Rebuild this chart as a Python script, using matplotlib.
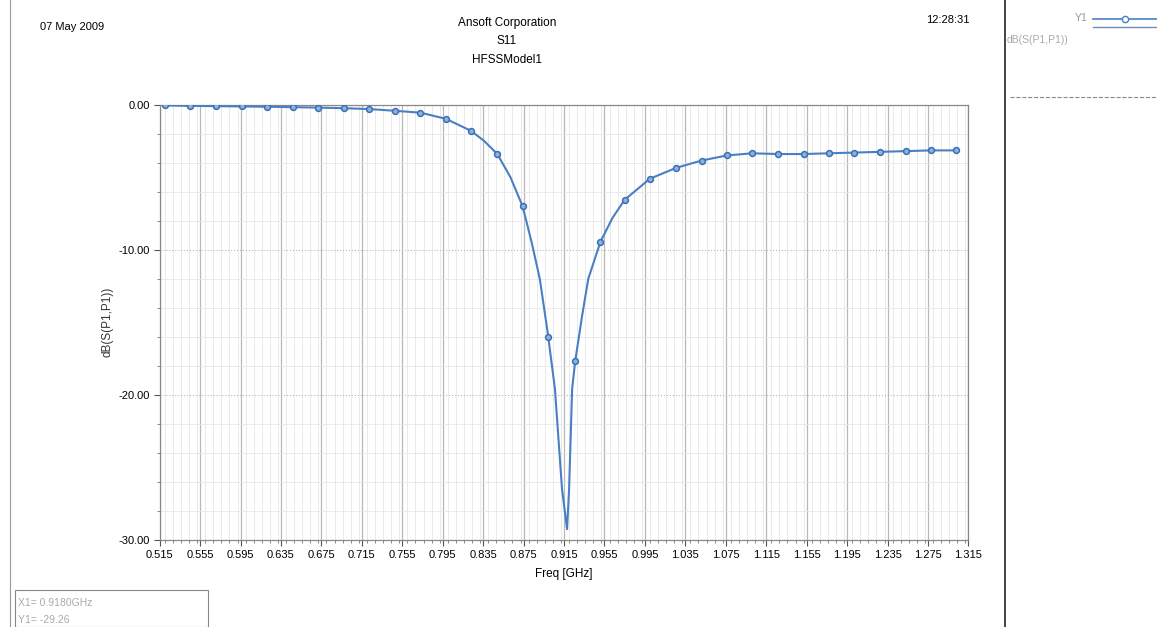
import numpy as np
import matplotlib
matplotlib.use("Agg")
import matplotlib.pyplot as plt
from matplotlib.ticker import MultipleLocator, FixedLocator

plt.rcParams['font.family'] = ['Liberation Sans', 'DejaVu Sans']

# sweep curve (GHz, dB)
freq_curve = [0.520, 0.545, 0.571, 0.596, 0.621, 0.647, 0.672, 0.697, 0.722, 0.748,
              0.773, 0.798, 0.823, 0.836, 0.849, 0.862, 0.874, 0.883, 0.891, 0.899,
              0.906, 0.913, 0.918, 0.920, 0.923, 0.926, 0.933, 0.939, 0.951, 0.963,
              0.975, 1.000, 1.026, 1.051, 1.076, 1.101, 1.127, 1.152, 1.177, 1.202,
              1.228, 1.253, 1.278, 1.303]
s11_curve = [-0.05, -0.08, -0.10, -0.12, -0.14, -0.17, -0.20, -0.24, -0.30, -0.42,
             -0.55, -0.97, -1.80, -2.50, -3.40, -5.00, -7.00, -9.50, -12.0, -15.8,
             -19.6, -26.5, -29.26, -26.5, -19.6, -17.7, -14.5, -12.0, -9.45, -7.80,
             -6.55, -5.10, -4.35, -3.85, -3.50, -3.35, -3.40, -3.40, -3.35, -3.30,
             -3.25, -3.20, -3.15, -3.15]

# marker points along the trace
freq_mark = [0.520, 0.545, 0.571, 0.596, 0.621, 0.647, 0.672, 0.697, 0.722, 0.748,
             0.773, 0.798, 0.823, 0.849, 0.874, 0.899, 0.926, 0.951, 0.975, 1.000,
             1.026, 1.051, 1.076, 1.101, 1.127, 1.152, 1.177, 1.202, 1.228, 1.253,
             1.278, 1.303]
s11_mark = [-0.05, -0.08, -0.10, -0.12, -0.14, -0.17, -0.20, -0.24, -0.30, -0.42,
            -0.55, -0.97, -1.80, -3.40, -7.00, -16.0, -17.7, -9.45, -6.55, -5.10,
            -4.35, -3.85, -3.50, -3.35, -3.40, -3.40, -3.35, -3.30, -3.25, -3.20,
            -3.15, -3.15]

xticks = [0.515, 0.555, 0.595, 0.635, 0.675, 0.715, 0.755, 0.795, 0.835, 0.875, 0.915,
          0.955, 0.995, 1.035, 1.075, 1.115, 1.155, 1.195, 1.235, 1.275, 1.315]
yticks = [0, -10, -20, -30]

fig = plt.figure(figsize=(11.57, 6.27), dpi=100)
ax = fig.add_axes([0.138, 0.139, 0.699, 0.694])

ax.plot(freq_curve, s11_curve, color='#4a7fc4', lw=1.5, zorder=3)
ax.plot(freq_mark, s11_mark, ls='none', marker='o', ms=4.2, mfc='#8fb2dc',
        mec='#3a6fb5', mew=1.1, zorder=4)

ax.set_xlim(0.515, 1.315)
ax.set_ylim(-30, 0)
ax.xaxis.set_major_locator(FixedLocator(xticks))
ax.set_xticklabels(['%.3f' % t for t in xticks], fontsize=8)
ax.xaxis.set_minor_locator(MultipleLocator(0.008))
ax.yaxis.set_major_locator(FixedLocator(yticks))
ax.set_yticklabels(['%.2f' % t for t in yticks], fontsize=8)
ax.yaxis.set_minor_locator(MultipleLocator(2))

ax.grid(which='major', axis='x', color='#b8b8b8', lw=0.9)
ax.grid(which='major', axis='y', color='#b8b8b8', lw=0.8, ls=':')
ax.grid(which='minor', color='#e6e6e6', lw=0.6)
ax.tick_params(which='major', length=4, width=0.8, color='#555555', pad=3)
ax.tick_params(which='minor', length=2, width=0.6, color='#777777')
for s in ax.spines.values():
    s.set_color('#888888')
    s.set_linewidth(0.9)

ax.set_xlabel('Freq [GHz]', fontsize=8.5, labelpad=6)
ax.set_ylabel('dB(S(P1,P1))', fontsize=8.5, labelpad=4, color='#333333')

# header texts
fig.text(40/1157, 1-27/627, '07 May 2009', fontsize=8, va='center', ha='left')
fig.text(507/1157, 1-23/627, 'Ansoft Corporation', fontsize=8.5, ha='center', va='center')
fig.text(507/1157, 1-41/627, 'S11', fontsize=8.5, ha='center', va='center')
fig.text(507/1157, 1-60/627, 'HFSSModel1', fontsize=8.5, ha='center', va='center')
fig.text(970/1157, 1-20/627, '12:28:31', fontsize=8, ha='right', va='center')

# frame lines
fig.add_artist(plt.Line2D([10/1157, 10/1157], [0, 1], color='#999999', lw=0.8))
fig.add_artist(plt.Line2D([1005/1157, 1005/1157], [0, 1], color='#222222', lw=1.2))

# legend panel
fig.text(1075/1157, 1-18/627, 'Y1', fontsize=7.5, color='#999999', ha='left', va='center')
fig.add_artist(plt.Line2D([1093/1157, 1157/1157], [1-19/627, 1-19/627], color='#4a7fc4', lw=1.2))
fig.add_artist(plt.Line2D([1125/1157], [1-19/627], marker='o', ms=4.5, mfc='white', mec='#4a7fc4'))
fig.add_artist(plt.Line2D([1093/1157, 1157/1157], [1-27/627, 1-27/627], color='#6d8fb8', lw=1.0))
fig.text(1007/1157, 1-40/627, 'dB(S(P1,P1))', fontsize=7.5, color='#aaaaaa', ha='left', va='center')
fig.add_artist(plt.Line2D([1010/1157, 1157/1157], [1-97/627, 1-97/627], color='#888888', lw=0.8, ls='--'))

# marker readout box
fig.add_artist(plt.Rectangle((15/1157, 0), 193/1157, 37/627, fill=False, ec='#888888', lw=0.8))
fig.text(18/1157, 1-603/627, 'X1= 0.9180GHz', fontsize=7.5, color='#aaaaaa', ha='left', va='center')
fig.text(18/1157, 1-620/627, 'Y1= -29.26', fontsize=7.5, color='#aaaaaa', ha='left', va='center')

fig.savefig('out.png', dpi=100, facecolor='white')
